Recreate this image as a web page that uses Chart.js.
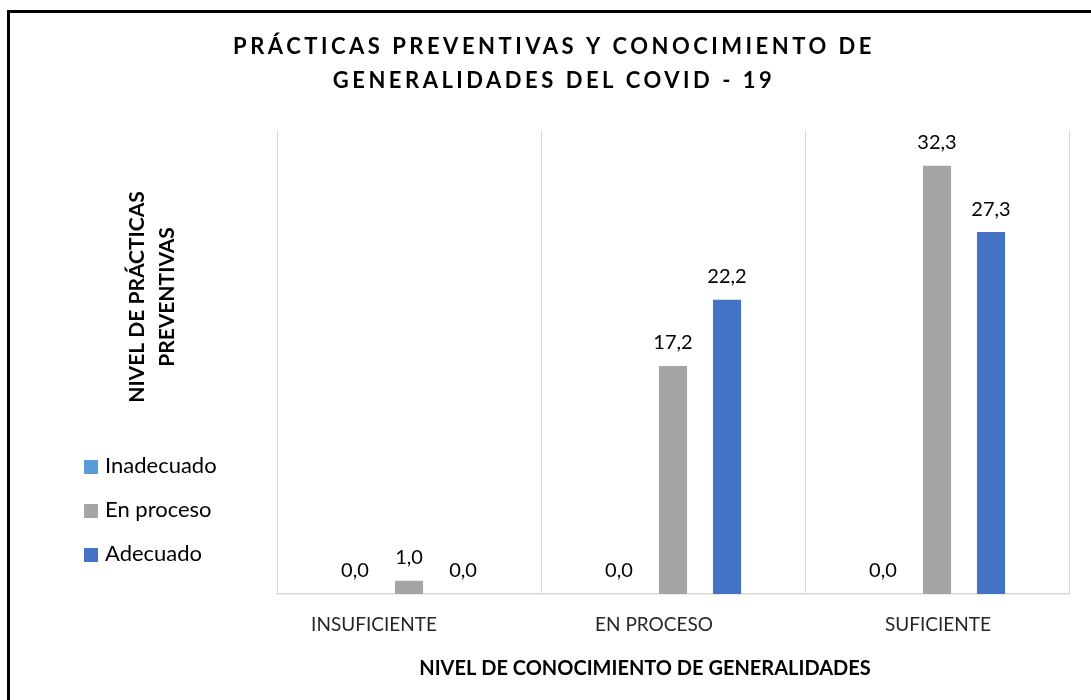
<!DOCTYPE html>
<html lang="es">
<head>
<meta charset="utf-8">
<title>Prácticas preventivas y conocimiento de generalidades del COVID - 19</title>
<script src="https://cdn.jsdelivr.net/npm/chart.js@4.4.1/dist/chart.umd.min.js"></script>
<style>
    html, body { margin: 0; padding: 0; background: #fff; }
    #wrap { width: 1091px; height: 700px; position: relative; }
</style>
</head>
<body>
<div id="wrap"><canvas id="grafico"></canvas></div>
<script>
// Datos
const categorias = ['INSUFICIENTE', 'EN PROCESO', 'SUFICIENTE'];
const inadecuado = [0.0, 0.0, 0.0];
const enProceso = [1.0, 17.2, 32.3];
const adecuado = [0.0, 22.2, 27.3];

const tituloLineas = ['PRÁCTICAS PREVENTIVAS Y CONOCIMIENTO DE', 'GENERALIDADES DEL COVID - 19'];
const tituloY = ['NIVEL DE PRÁCTICAS', 'PREVENTIVAS'];
const tituloX = 'NIVEL DE CONOCIMIENTO DE GENERALIDADES';

// En el original las etiquetas del eje X no quedan centradas en su categoría
const desplazamientoEtiquetas = [-35, -19, 1];

const fuente = 'Lato, "Noto Sans", sans-serif';

/**
 * Dibuja marco, títulos, leyenda y etiquetas de valores
 */
const decoracion = {
    id: 'decoracion',
    afterDraw(chart) {
        const ctx = chart.ctx;
        ctx.save();

        // Marco exterior
        ctx.lineWidth = 3;
        ctx.strokeStyle = '#000';
        ctx.strokeRect(8.5, 11.5, 1100, 700);

        // Título principal con espaciado entre letras
        ctx.fillStyle = '#000';
        ctx.textAlign = 'center';
        ctx.textBaseline = 'middle';
        ctx.font = 'bold 22px ' + fuente;
        ctx.letterSpacing = '3.5px';
        ctx.fillText(tituloLineas[0], 554, 47);
        ctx.fillText(tituloLineas[1], 554, 81);
        ctx.letterSpacing = '0px';

        // Título del eje Y (rotado)
        ctx.save();
        ctx.font = 'bold 21px ' + fuente;
        ctx.translate(137, 297);
        ctx.rotate(-Math.PI / 2);
        ctx.fillText(tituloY[0], 0, 0);
        ctx.fillText(tituloY[1], 0, 30);
        ctx.restore();

        // Título del eje X
        ctx.font = 'bold 20px ' + fuente;
        ctx.fillText(tituloX, 645, 669);

        // Etiquetas de categoría
        const escalaX = chart.scales.x;
        ctx.font = '19px ' + fuente;
        ctx.fillStyle = '#262626';
        categorias.forEach((cat, j) => {
            ctx.fillText(cat, escalaX.getPixelForValue(j) + desplazamientoEtiquetas[j], 625);
        });

        // Leyenda
        ctx.font = '22px ' + fuente;
        ctx.textAlign = 'left';
        const ys = [466, 510, 554];
        chart.data.datasets.forEach((ds, i) => {
            ctx.fillStyle = ds.backgroundColor;
            ctx.fillRect(84, ys[i] - 6, 14, 14);
            ctx.fillStyle = '#000';
            ctx.fillText(ds.label, 105, ys[i]);
        });

        // Etiquetas de valores encima de cada barra
        ctx.font = '20px ' + fuente;
        ctx.textAlign = 'center';
        ctx.fillStyle = '#000';
        chart.data.datasets.forEach((ds, i) => {
            const meta = chart.getDatasetMeta(i);
            meta.data.forEach((bar, j) => {
                const texto = ds.data[j].toFixed(1).replace('.', ',');
                ctx.fillText(texto, bar.x, bar.y - 23);
            });
        });

        ctx.restore();
    }
};

new Chart(document.getElementById('grafico'), {
    type: 'bar',
    data: {
        labels: categorias,
        datasets: [
            { label: 'Inadecuado', data: inadecuado, backgroundColor: '#5B9BD5' },
            { label: 'En proceso', data: enProceso, backgroundColor: '#A5A5A5' },
            { label: 'Adecuado', data: adecuado, backgroundColor: '#4472C4' }
        ]
    },
    options: {
        responsive: true,
        maintainAspectRatio: false,
        animation: false,
        categoryPercentage: 0.614,
        barPercentage: 0.52,
        layout: {
            padding: { left: 277, right: 22, top: 130, bottom: 0 }
        },
        plugins: {
            legend: { display: false },
            title: { display: false },
            tooltip: { enabled: false }
        },
        scales: {
            x: {
                afterFit: function(scale) {
                    scale.height = 106;
                },
                grid: {
                    offset: true,
                    color: '#D9D9D9',
                    lineWidth: 1,
                    drawTicks: false
                },
                border: {
                    color: '#D9D9D9',
                    width: 1.5
                },
                ticks: {
                    display: false
                }
            },
            y: {
                display: false,
                min: 0,
                max: 35
            }
        }
    },
    plugins: [decoracion]
});
</script>
</body>
</html>
